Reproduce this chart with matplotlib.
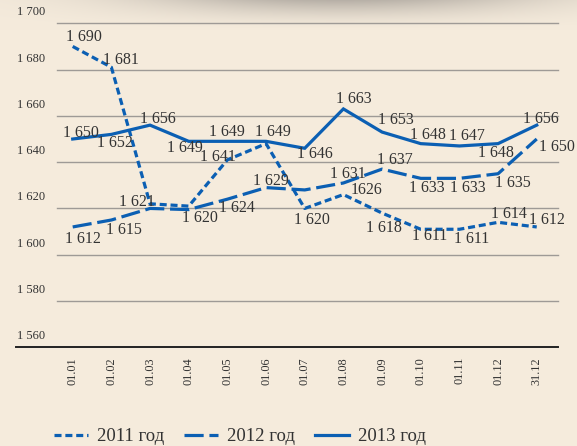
import numpy as np
import matplotlib
matplotlib.use('Agg')
import matplotlib.pyplot as plt

# chart data
dates = ['01.01', '01.02', '01.03', '01.04', '01.05', '01.06', '01.07',
         '01.08', '01.09', '01.10', '01.11', '01.12', '31.12']
y2011 = [1690, 1681, 1622, 1621, 1641, 1648, 1620, 1626, 1618, 1611, 1611, 1614, 1612]
y2012 = [1612, 1615, 1620, 1619.5, 1624, 1629, 1628, 1631, 1637, 1633, 1633, 1635, 1650]
y2013 = [1650, 1652, 1656, 1649, 1649, 1649, 1646, 1663, 1653, 1648, 1647, 1648, 1656]
lab2011 = ['1 690', '1 681', '1 621', None, '1 641', None, '1 620', '1626',
           '1 618', '1 611', '1 611', '1 614', '1 612']
lab2012 = ['1 612', '1 615', None, '1 620', '1 624', '1 629', None, '1 631',
           '1 637', '1 633', '1 633', '1 635', '1 650']
lab2013 = ['1 650', '1 652', '1 656', '1 649', '1 649', '1 649', '1 646', '1 663',
           '1 653', '1 648', '1 647', '1 648', '1 656']
series_names = ['2011 год', '2012 год', '2013 год']
yticks = [1560, 1580, 1600, 1620, 1640, 1660, 1680, 1700]

# label offsets in pixels (dx, dy up)
off2011 = [(11, 9), (10, 7), (-13, 2), None, (-9, 3), None, (7, -12), (23, 5),
           (2, -15), (9, -7), (12, -10), (11, 8), (10, 7)]
off2012 = [(10, -12), (13, -10), None, (11, -8), (10, -9), (5, 7), None, (4, 9),
           (13, 9), (6, -10), (8, -10), (15, -9), (20, -8)]
off2013 = [(8, 6), (4, -9), (8, 6), (-4, -7), (0, 9), (7, 9), (10, -6), (10, 10),
           (14, 12), (7, 9), (8, 10), (-2, -9), (4, 6)]

W, H = 577, 446
fig = plt.figure(figsize=(W / 100, H / 100), dpi=100)

# background with soft shadow at top
bg = fig.add_axes([0, 0, 1, 1])
xx, yy = np.meshgrid(np.arange(W), np.arange(H))
a = 0.72 * np.exp(-((xx - 340) / 200.0) ** 2) * np.clip(1 - yy / 30.0, 0, 1) ** 1.6
base = np.array([245, 235, 220]) / 255.0
dark = np.array([160, 154, 147]) / 255.0
img = base[None, None, :] * (1 - a[..., None]) + dark[None, None, :] * a[..., None]
bg.imshow(img, aspect='auto', extent=[0, W, H, 0])
bg.axis('off')

x0, dx = 72.7, 38.67
left_px, right_px = 16, 557.7
top_px, bot_px = 23.3, 347.3
ax = fig.add_axes([left_px / W, 1 - bot_px / H, (right_px - left_px) / W, (bot_px - top_px) / H])
ax.patch.set_alpha(0)
ax.set_xlim((left_px - x0) / dx, (right_px - x0) / dx)
ax.set_ylim(1560, 1700)
for s in ax.spines.values():
    s.set_visible(False)
ax.set_yticks([])
ax.tick_params(axis='x', length=0, pad=7)

x = np.arange(len(dates))
ax.set_xticks(x)
ax.set_xticklabels(dates, rotation=90, fontsize=8.8, family='Liberation Serif', color='#333333', va='top')

# grid lines
gx0 = (57 - x0) / dx
for t in yticks[1:]:
    ax.plot([gx0, ax.get_xlim()[1]], [t, t], color='#9e9a96', lw=1.0, zorder=1, clip_on=False)
ax.plot(ax.get_xlim(), [1560, 1560], color='#222222', lw=1.4, zorder=1, clip_on=False)
for t in yticks:
    ax.annotate(f'{t // 1000} {t % 1000:03d}', xy=(0, t), xycoords=('axes fraction', 'data'),
                xytext=(1, 5), textcoords='offset pixels', fontsize=9,
                family='Liberation Serif', color='#333333', ha='left', va='bottom')

blue = '#0b5fb3'
l1, = ax.plot(x, y2011, color=blue, lw=2.3, dashes=(2.2, 1.2), zorder=3, clip_on=False)
l2, = ax.plot(x, y2012, color=blue, lw=2.3, dashes=(6, 1.8), zorder=3, clip_on=False)
l3, = ax.plot(x, y2013, color=blue, lw=2.3, zorder=3, clip_on=False, solid_joinstyle='miter')

for vals, labs, offs in [(y2011, lab2011, off2011), (y2012, lab2012, off2012), (y2013, lab2013, off2013)]:
    for i, (v, lb, o) in enumerate(zip(vals, labs, offs)):
        if lb is None:
            continue
        ax.annotate(lb, xy=(x[i], v), xytext=o, textcoords='offset pixels',
                    ha='center', va='center', fontsize=11.5,
                    family='Liberation Serif', color='#333333', zorder=4)

leg = fig.legend([l1, l2, l3], series_names, loc='center', bbox_to_anchor=(240 / W, 1 - 436.5 / H),
                 ncol=3, frameon=False, prop={'family': 'Liberation Serif', 'size': 13.5},
                 handlelength=1.8, columnspacing=1.07, handletextpad=0.48)
for t in leg.get_texts():
    t.set_color('#333333')

fig.savefig('out.png', dpi=100)
